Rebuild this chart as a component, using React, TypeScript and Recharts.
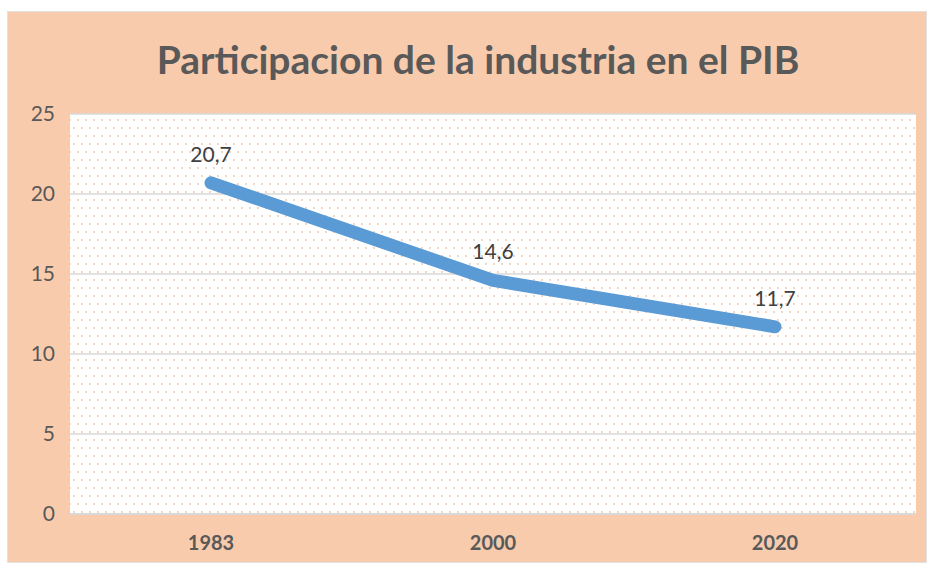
import React from 'react';
import { LineChart, Line, XAxis, YAxis, CartesianGrid, LabelList } from 'recharts';

// Chart data
const years = ['1983', '2000', '2020'];
const share = [20.7, 14.6, 11.7];
const yTicks = [0, 5, 10, 15, 20, 25];

const data = years.map((year, i) => ({ year, value: share[i] }));

const TEXT = '#595959';

export default function App() {
  return (
    <div style={{ position: 'absolute', left: 0, top: 0, width: 940, height: 569, background: '#fff' }}>
      <div
        style={{
          position: 'absolute',
          left: 8,
          top: 12,
          width: 918,
          height: 550,
          background: '#F8CBAD',
          boxShadow: '0 0 0 1px #e2e2e2',
        }}
      >
        {/* Title */}
        <div
          style={{
            position: 'absolute',
            left: 0,
            top: 22,
            width: 940,
            textAlign: 'center',
            fontFamily: 'Lato, sans-serif',
            fontWeight: 'bold',
            fontSize: 39,
            color: TEXT,
            lineHeight: '50px',
          }}
        >
          Participacion de la industria en el PIB
        </div>
        <LineChart
          width={918}
          height={550}
          data={data}
          margin={{ top: 102, right: 10, bottom: 0, left: 0 }}
        >
          <defs>
            <pattern id="dots" width="8" height="16" patternUnits="userSpaceOnUse">
              <rect width="8" height="16" fill="#ffffff" />
              <circle cx="2" cy="4" r="0.9" fill="#F1C3A6" />
              <circle cx="6" cy="12" r="0.9" fill="#F1C3A6" />
            </pattern>
          </defs>
          <CartesianGrid
            vertical={false}
            stroke="#D9D9D9"
            strokeWidth={1.5}
            fill="url(#dots)"
            fillOpacity={1}
          />
          <XAxis
            dataKey="year"
            height={48}
            padding={{ left: 141, right: 141 }}
            axisLine={{ stroke: '#D9D9D9', strokeWidth: 1.5 }}
            tickLine={false}
            tickSize={0}
            tickMargin={22}
            tick={{ fill: TEXT, fontSize: 20, fontWeight: 'bold', fontFamily: 'Lato, sans-serif' }}
          />
          <YAxis
            width={62}
            domain={[0, 25]}
            ticks={yTicks}
            axisLine={false}
            tickLine={false}
            tickSize={0}
            tickMargin={15}
            tick={{ fill: TEXT, fontSize: 21, fontFamily: 'Lato, sans-serif' }}
          />
          <Line
            type="linear"
            dataKey="value"
            stroke="#5B9BD5"
            strokeWidth={13}
            strokeLinecap="round"
            strokeLinejoin="round"
            dot={false}
            isAnimationActive={false}
          >
            <LabelList
              dataKey="value"
              position="top"
              offset={21}
              formatter={(v: any) => String(v).replace('.', ',')}
              style={{ fill: '#404040', fontSize: 21, fontFamily: 'Lato, sans-serif' }}
            />
          </Line>
        </LineChart>
      </div>
    </div>
  );
}
